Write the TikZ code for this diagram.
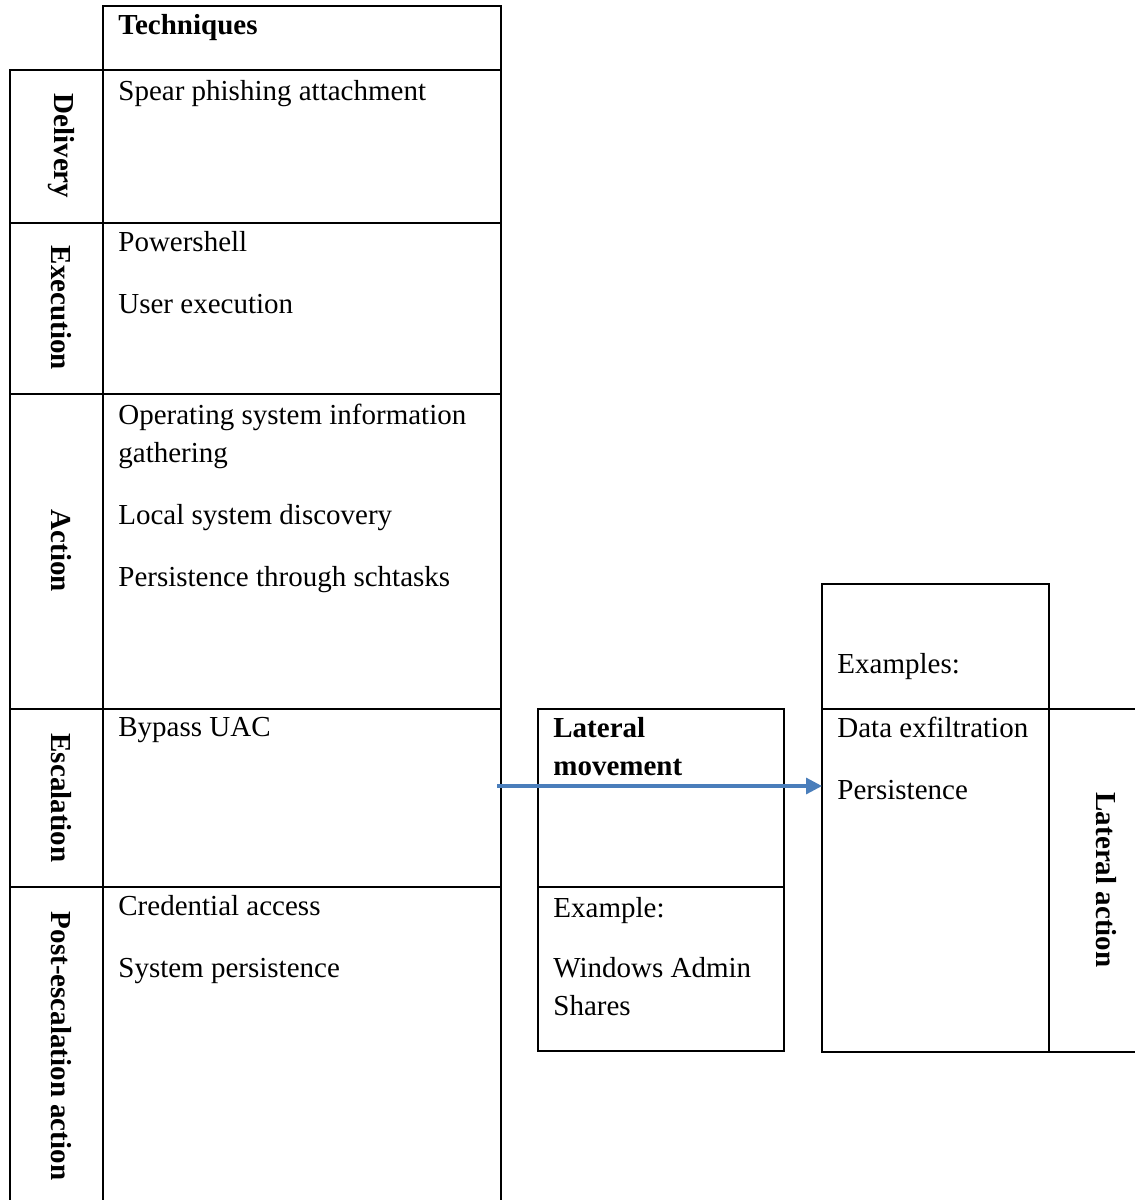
\documentclass[tikz,border=0pt]{standalone}
\usepackage{fontspec}
\setmainfont{Liberation Serif}
\usetikzlibrary{arrows.meta}
\definecolor{arrowblue}{HTML}{4A7EBB}
\begin{document}
\begin{tikzpicture}[x=0.5pt,y=-0.5pt,
	grid/.style={line width=1.1pt},
	txt/.style={anchor=north west,inner sep=0pt,align=left,font=\fontsize{14.5}{19}\selectfont},
	head/.style={txt,font=\fontsize{14.5}{19}\selectfont\bfseries},
	side/.style={inner sep=0pt,rotate=-90,font=\fontsize{14.5}{19}\selectfont\bfseries},
	flow/.style={draw=arrowblue,line width=1.6pt,-{Triangle[length=8pt,width=8pt]}}]
	\useasboundingbox (0,0) rectangle (1135,1200);

	\draw[grid] (103,1200) -- (103,6) -- (501,6) -- (501,1200);
	\draw[grid] (10,1200) -- (10,70) -- (501,70);
	\foreach \y in {223,394,709,887}
		\draw[grid] (10,\y) -- (501,\y);
	\draw[grid] (538,709) rectangle (784,1051);
	\draw[grid] (538,887) -- (784,887);
	\draw[grid] (822,584) rectangle (1049,1052);
	\draw[grid] (822,709) -- (1135,709);
	\draw[grid] (1049,1052) -- (1135,1052);

	\node[head] (tech) at (118,14) {Techniques};
	\node[txt] (deliv) at (118,80) {Spear phishing attachment};
	\node[txt] (exec) at (118,231) {Powershell\\[12pt]User execution};
	\node[txt] (act) at (118,404) {Operating system information\\gathering\\[12pt]Local system discovery\\[12pt]Persistence through schtasks};
	\node[txt] (esc) at (118,717) {Bypass UAC};
	\node[txt] (post) at (118,895) {Credential access\\[12pt]System persistence};

	\node[side] (delivery) at (61,146) {Delivery};
	\node[side] (execution) at (61,308) {Execution};
	\node[side] (action) at (61,551) {Action};
	\node[side] (escalation) at (61,798) {Escalation};
	\node[side] (postesc) at (61,1046) {Post-escalation action};

	\node[head] (latmove) at (553,717) {Lateral\\movement};
	\node[txt] (adminex) at (553,897) {Example:\\[11pt]Windows Admin\\Shares};

	\node[txt] (examples) at (837,653) {Examples:};
	\node[txt] (exfil) at (837,717) {Data exfiltration\\[12pt]Persistence};
	\node[side] (latact) at (1106,880) {Lateral action};

	\coordinate (escout) at (497,786);
	\coordinate (exfin) at (822,786);
	\draw [flow] (escout) -- (exfin);
\end{tikzpicture}
\end{document}
